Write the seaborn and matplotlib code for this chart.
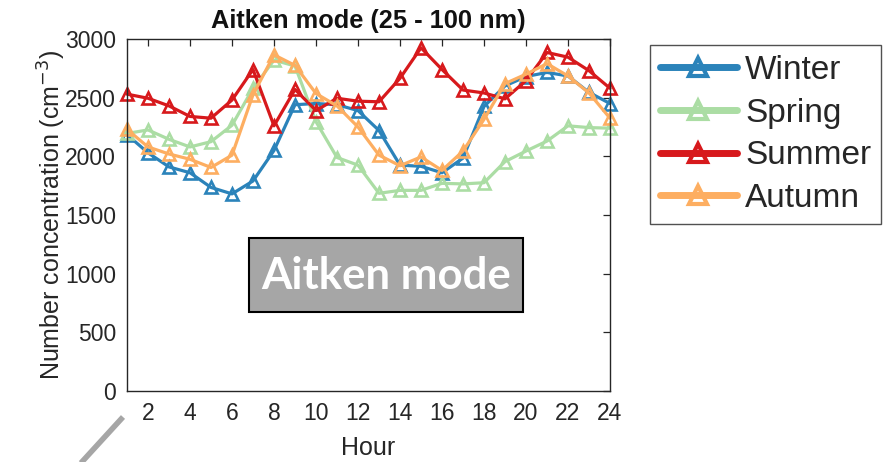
import matplotlib
matplotlib.use("Agg")
import matplotlib.pyplot as plt
from matplotlib.patches import Rectangle
from matplotlib.lines import Line2D
import seaborn as sns
import pandas as pd

sns.set_style("white")
plt.rcParams["font.family"] = ["Liberation Sans", "DejaVu Sans"]

hours = list(range(1, 25))
seasons = ["Winter", "Spring", "Summer", "Autumn"]
colors = ["#2b83ba", "#abdda4", "#d7191c", "#fdae61"]

winter = [2185, 2030, 1910, 1860, 1735, 1680, 1790, 2050, 2440, 2450, 2440, 2390,
          2220, 1925, 1915, 1860, 1985, 2425, 2600, 2680, 2715, 2685, 2545, 2450]
spring = [2195, 2225, 2145, 2080, 2125, 2265, 2580, 2820, 2770, 2295, 1990, 1925,
          1685, 1710, 1710, 1770, 1765, 1775, 1955, 2045, 2130, 2260, 2245, 2240]
summer = [2530, 2495, 2430, 2340, 2325, 2480, 2740, 2260, 2570, 2390, 2495, 2470,
          2465, 2665, 2925, 2740, 2565, 2540, 2490, 2645, 2885, 2845, 2730, 2580]
autumn = [2230, 2080, 2020, 1975, 1905, 2010, 2525, 2865, 2775, 2535, 2430, 2250,
          2010, 1920, 1995, 1880, 2045, 2315, 2620, 2700, 2790, 2685, 2540, 2325]

xticks = list(range(2, 25, 2))
yticks = list(range(0, 3001, 500))

df = pd.DataFrame({
    "Hour": hours * 4,
    "Season": [s for s in seasons for _ in hours],
    "Conc": winter + spring + summer + autumn,
})

fig = plt.figure(figsize=(8.84, 4.62), dpi=100)
ax = fig.add_axes([127 / 884, 1 - 391 / 462, (610 - 127) / 884, (391 - 39) / 462])

for season, col in zip(seasons, colors):
    sub = df[df["Season"] == season]
    sns.lineplot(data=sub, x="Hour", y="Conc", ax=ax, color=col, label=season,
                 marker="^", markersize=8.5, markerfacecolor="none",
                 markeredgecolor=col, markeredgewidth=1.9, linewidth=2.3,
                 clip_on=False)

ax.set_xlim(1, 24)
ax.set_ylim(0, 3000)
ax.set_xticks(xticks)
ax.set_yticks(yticks)
ax.tick_params(direction="in", length=5, width=0.9, top=True, right=True,
               labelsize=16.5, labelcolor="#262626", color="#262626", pad=8)
for sp in ax.spines.values():
    sp.set_color("#262626")
    sp.set_linewidth(1.0)

ax.set_xlabel("Hour", fontsize=18, color="#262626", labelpad=8)
ax.set_ylabel("Number concentration (cm$^{-3}$)", fontsize=18, color="#262626",
              labelpad=-2)
ax.set_title("Aitken mode (25 - 100 nm)", fontsize=18.3, fontweight="bold",
             color="#111111", pad=8)

leg = ax.legend(loc="upper left", bbox_to_anchor=(650 / 884, 1 - 45 / 462),
                bbox_transform=fig.transFigure, fontsize=24, frameon=True,
                fancybox=False, edgecolor="#262626", handlelength=2.3,
                handletextpad=0.25, labelspacing=0.35, borderpad=0.3,
                borderaxespad=0, markerscale=1.6)
leg.get_frame().set_linewidth(1.0)
for h in leg.legend_handles:
    h.set_linewidth(5)
    h.set_markeredgewidth(3)

# label box inside the plot area
fig.add_artist(Rectangle((249 / 884, 1 - 312 / 462), 274 / 884, 74 / 462,
                         transform=fig.transFigure, facecolor="#a6a6a6",
                         edgecolor="black", linewidth=1.5, zorder=5))
fig.text(386 / 884, 1 - 276 / 462, "Aitken mode", ha="center", va="center",
         fontsize=31.5, fontweight="bold", color="white", family="Lato",
         zorder=6)

# grey connector stroke at the lower left
fig.add_artist(Line2D([123 / 884, 80 / 884], [1 - 417 / 462, 1 - 464 / 462],
                      transform=fig.transFigure, color="#a6a6a6", linewidth=4,
                      solid_capstyle="butt"))

fig.savefig("out.png", dpi=100)
